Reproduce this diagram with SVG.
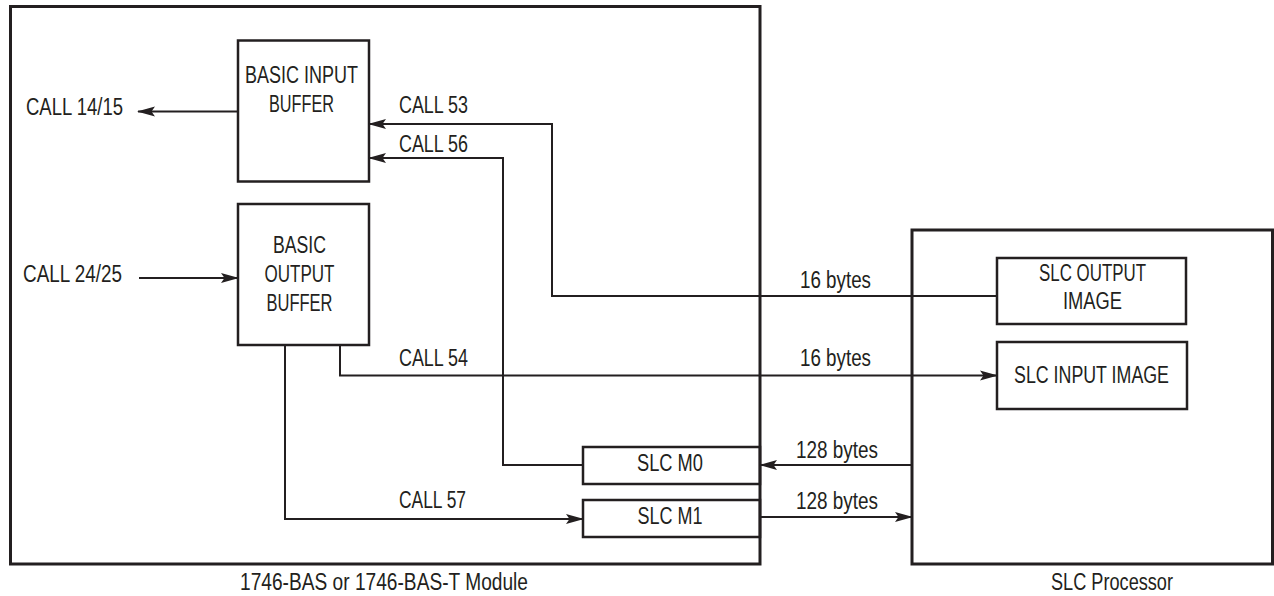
<svg xmlns="http://www.w3.org/2000/svg" width="1274" height="596" viewBox="0 0 1274 596">
<style>
  .box{fill:none;stroke:#231f20;stroke-width:2.5}
  .outer{fill:none;stroke:#231f20;stroke-width:3}
  .conn{fill:none;stroke:#231f20;stroke-width:2}
  text{font-family:"Liberation Sans",Arial,sans-serif;font-size:23px;fill:#231f20}
  .c{text-anchor:middle}
</style>
<defs>
  <marker id="arr" viewBox="0 0 18 11" refX="17" refY="5.5" markerWidth="18" markerHeight="11" markerUnits="userSpaceOnUse" orient="auto">
    <path d="M0,0.5 L18,5.5 L0,10.5 L3.5,5.5 Z" fill="#231f20"/>
  </marker>
</defs>
<rect width="1274" height="596" fill="#fff"/>
<g id="module">
  <rect class="outer" x="10.5" y="6.5" width="749.5" height="557.5"/>
  <text class="c" x="384" y="590" textLength="288" lengthAdjust="spacingAndGlyphs">1746-BAS or 1746-BAS-T Module</text>
</g>
<g id="processor">
  <rect class="outer" x="912" y="230" width="360.5" height="334"/>
  <text class="c" x="1112" y="590" textLength="122" lengthAdjust="spacingAndGlyphs">SLC Processor</text>
</g>
<g id="basic-input-buffer">
  <rect class="box" x="238" y="40.5" width="131" height="141"/>
  <text class="c" x="301.5" y="83" textLength="113" lengthAdjust="spacingAndGlyphs">BASIC INPUT</text>
  <text class="c" x="301.5" y="112" textLength="65" lengthAdjust="spacingAndGlyphs">BUFFER</text>
</g>
<g id="basic-output-buffer">
  <rect class="box" x="238" y="204" width="131" height="141"/>
  <text class="c" x="299.5" y="253" textLength="53" lengthAdjust="spacingAndGlyphs">BASIC</text>
  <text class="c" x="299.5" y="282" textLength="70" lengthAdjust="spacingAndGlyphs">OUTPUT</text>
  <text class="c" x="299.5" y="311" textLength="66" lengthAdjust="spacingAndGlyphs">BUFFER</text>
</g>
<g id="slc-m0">
  <rect class="box" x="583" y="447" width="177" height="37"/>
  <text class="c" x="670" y="471" textLength="66" lengthAdjust="spacingAndGlyphs">SLC M0</text>
</g>
<g id="slc-m1">
  <rect class="box" x="583" y="500" width="177" height="37"/>
  <text class="c" x="670" y="524" textLength="65" lengthAdjust="spacingAndGlyphs">SLC M1</text>
</g>
<g id="slc-output-image">
  <rect class="box" x="997" y="258" width="189" height="66"/>
  <text class="c" x="1092.5" y="281" textLength="107" lengthAdjust="spacingAndGlyphs">SLC OUTPUT</text>
  <text class="c" x="1092.5" y="309" textLength="59" lengthAdjust="spacingAndGlyphs">IMAGE</text>
</g>
<g id="slc-input-image">
  <rect class="box" x="997" y="342" width="190" height="67"/>
  <text class="c" x="1091.5" y="383" textLength="155" lengthAdjust="spacingAndGlyphs">SLC INPUT IMAGE</text>
</g>
<g id="connectors">
  <path class="conn" d="M238,111.5 H138" marker-end="url(#arr)"/>
  <text x="26" y="115" textLength="97" lengthAdjust="spacingAndGlyphs">CALL 14/15</text>
  <path class="conn" d="M139,278 H238" marker-end="url(#arr)"/>
  <text x="23" y="282" textLength="99" lengthAdjust="spacingAndGlyphs">CALL 24/25</text>
  <path class="conn" d="M997,296 H552 V124 H369" marker-end="url(#arr)"/>
  <text x="399" y="113" textLength="69" lengthAdjust="spacingAndGlyphs">CALL 53</text>
  <text x="800" y="288" textLength="71" lengthAdjust="spacingAndGlyphs">16 bytes</text>
  <path class="conn" d="M583,465 H503 V158 H369" marker-end="url(#arr)"/>
  <text x="399" y="152" textLength="69" lengthAdjust="spacingAndGlyphs">CALL 56</text>
  <path class="conn" d="M340,345 V375.5 H997" marker-end="url(#arr)"/>
  <text x="399" y="366" textLength="69" lengthAdjust="spacingAndGlyphs">CALL 54</text>
  <text x="800" y="366" textLength="71" lengthAdjust="spacingAndGlyphs">16 bytes</text>
  <path class="conn" d="M285,345 V519 H583" marker-end="url(#arr)"/>
  <text x="399" y="508" textLength="67" lengthAdjust="spacingAndGlyphs">CALL 57</text>
  <path class="conn" d="M912,465 H760" marker-end="url(#arr)"/>
  <text x="796" y="458" textLength="82" lengthAdjust="spacingAndGlyphs">128 bytes</text>
  <path class="conn" d="M760,517 H912" marker-end="url(#arr)"/>
  <text x="796" y="509" textLength="82" lengthAdjust="spacingAndGlyphs">128 bytes</text>
</g>
</svg>
